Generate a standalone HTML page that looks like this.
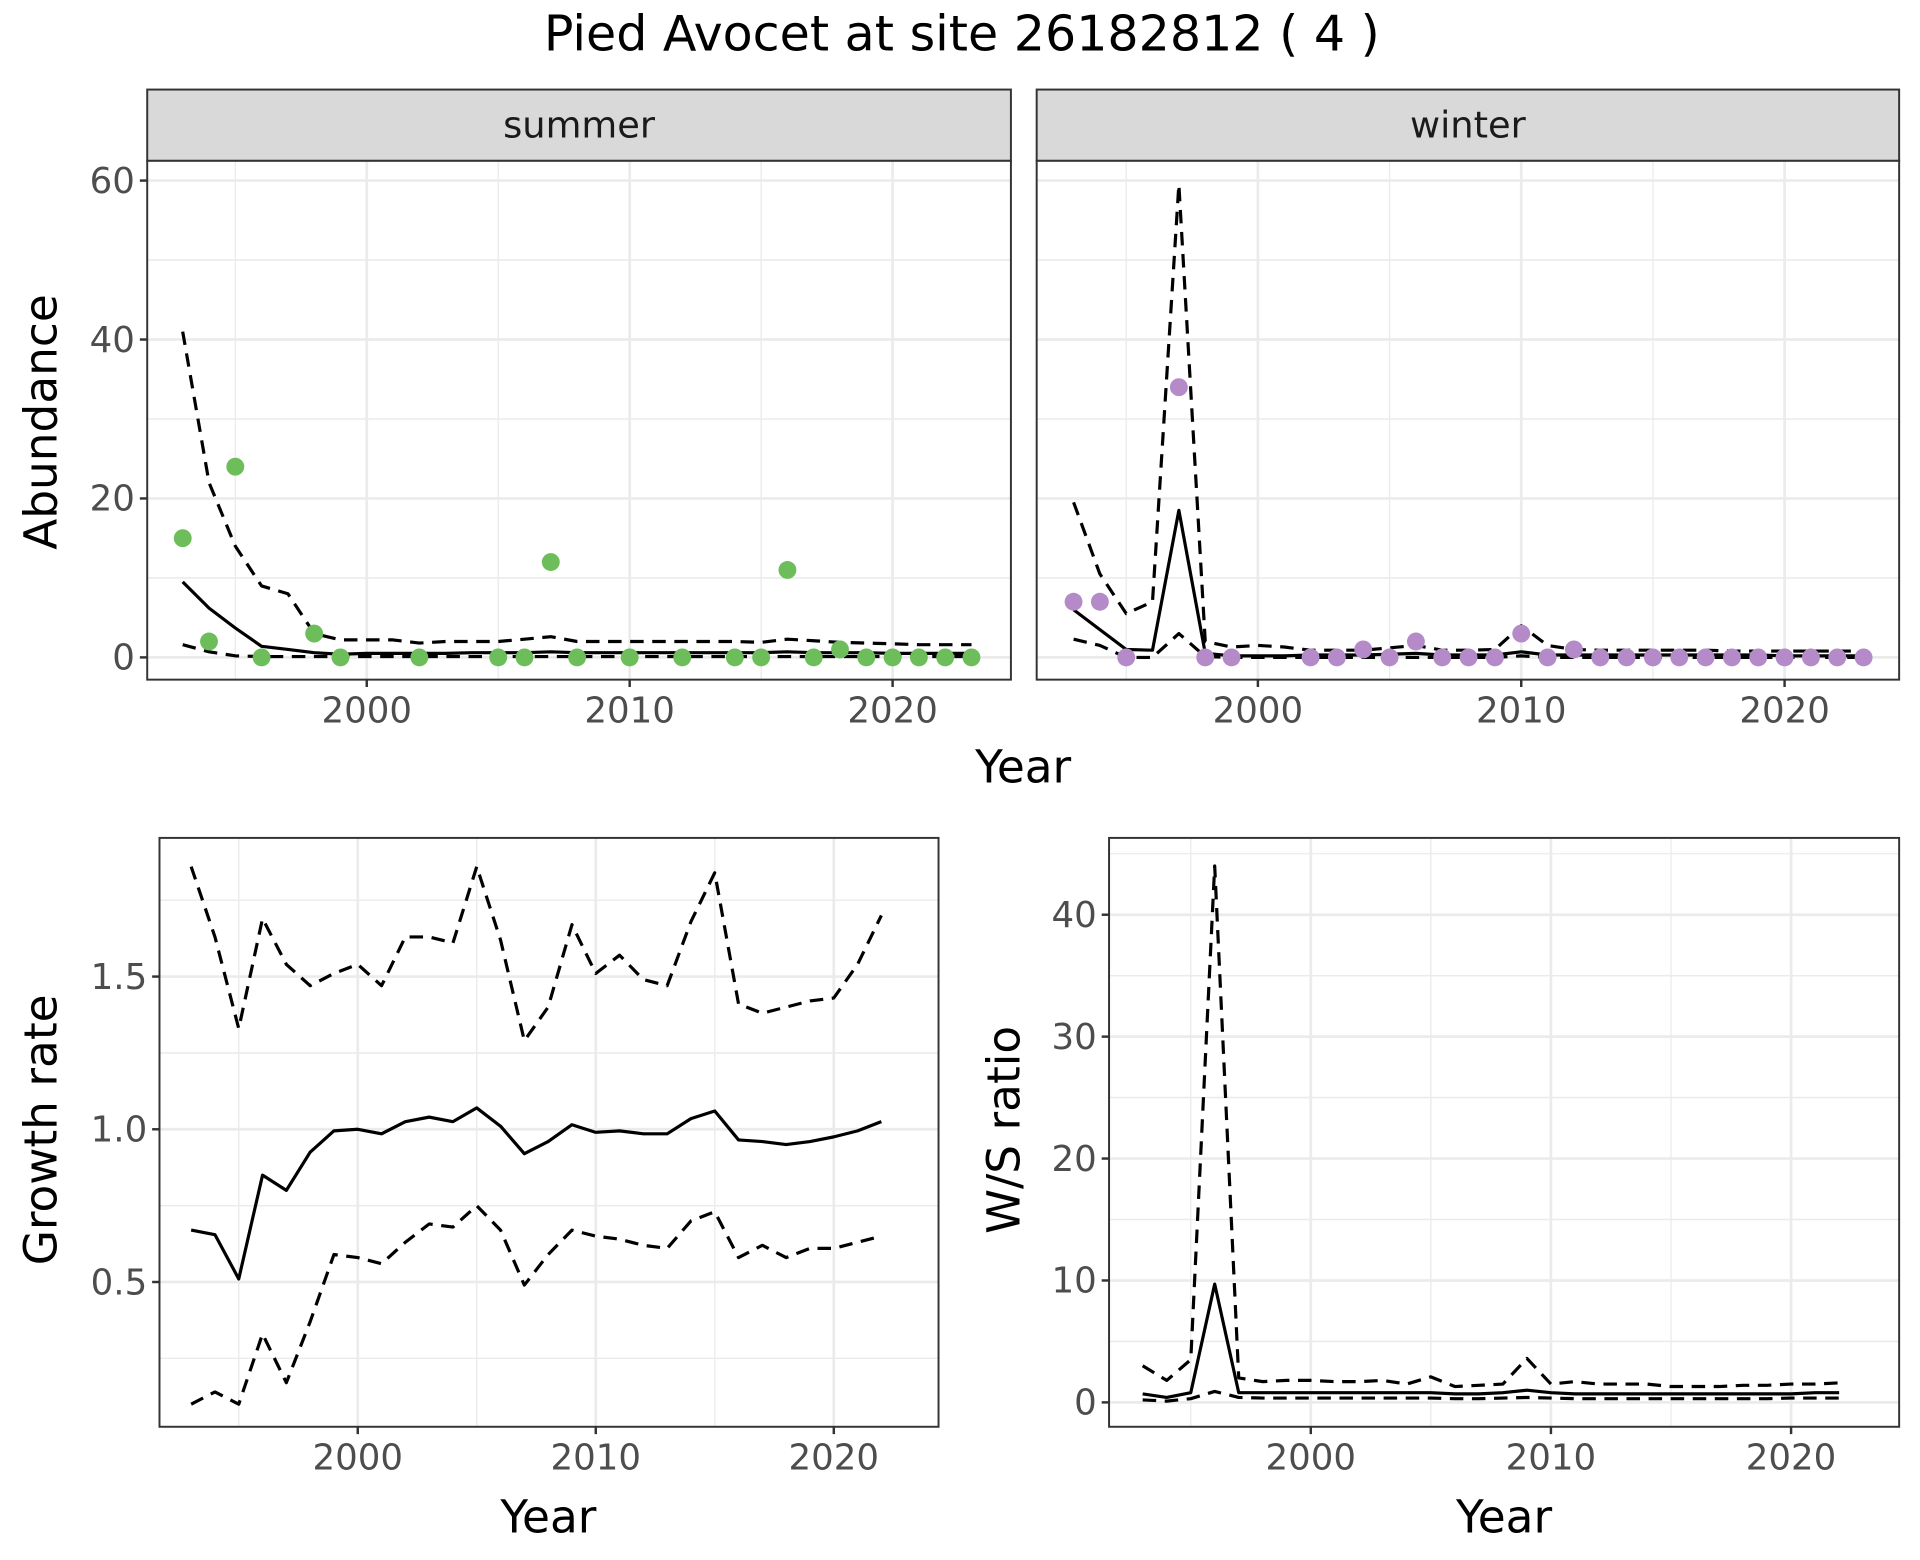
<!DOCTYPE html>
<html><head><meta charset="utf-8"><style>
html,body{margin:0;padding:0;background:#fff}
svg{display:block;font-family:"DejaVu Sans","Liberation Sans",sans-serif}
</style></head><body>
<svg id="fig" width="1920" height="1560" viewBox="0 0 1565 1271.6" preserveAspectRatio="none" xmlns="http://www.w3.org/2000/svg">
<rect width="1565" height="1271.6" fill="#fff"/>
<text x="784" y="41" font-size="40" text-anchor="middle" fill="#000">Pied Avocet at site 26182812 ( 4 )</text>
</svg>
<script>
const absYears = [1993,1994,1995,1996,1997,1998,1999,2000,2001,2002,2003,2004,2005,2006,2007,2008,2009,2010,2011,2012,2013,2014,2015,2016,2017,2018,2019,2020,2021,2022,2023];
const summerPtYears = [1993,1994,1995,1996,1998,1999,2002,2005,2006,2007,2008,2010,2012,2014,2015,2016,2017,2018,2019,2020,2021,2022,2023];
const summerPts = [15,2,24,0,3,0,0,0,0,12,0,0,0,0,0,11,0,1,0,0,0,0,0];
const summerMean = [9.5,6.2,3.7,1.4,1.0,0.6,0.4,0.5,0.5,0.5,0.5,0.6,0.6,0.6,0.7,0.6,0.6,0.6,0.6,0.6,0.6,0.6,0.6,0.7,0.6,0.6,0.6,0.5,0.5,0.5,0.5];
const summerUpper = [41,22,14,9,8,3,2.2,2.2,2.2,1.8,2,2,2,2.3,2.6,2,2,2,2,2,2,2,1.9,2.3,2.1,1.9,1.8,1.7,1.6,1.6,1.6];
const summerLower = [1.6,0.7,0.2,0.1,0.1,0.1,0.1,0.1,0.1,0.1,0.1,0.1,0.1,0.1,0.1,0.1,0.1,0.1,0.1,0.1,0.1,0.1,0.1,0.1,0.1,0.1,0.1,0.1,0.1,0.1,0.1];
const winterPtYears = [1993,1994,1995,1997,1998,1999,2002,2003,2004,2005,2006,2007,2008,2009,2010,2011,2012,2013,2014,2015,2016,2017,2018,2019,2020,2021,2022,2023];
const winterPts = [7,7,0,34,0,0,0,0,1,0,2,0,0,0,3,0,1,0,0,0,0,0,0,0,0,0,0,0];
const winterMean = [6,3.5,1,0.9,18.5,0.5,0.2,0.2,0.2,0.3,0.3,0.3,0.4,0.5,0.3,0.3,0.3,0.7,0.3,0.3,0.3,0.3,0.3,0.3,0.3,0.3,0.3,0.2,0.2,0.2,0.2];
const winterUpper = [19.5,10.5,5.5,7,59.5,2,1.3,1.5,1.3,0.9,0.9,0.9,1.2,1.5,0.9,0.9,1,4,1.5,1,0.9,0.9,0.9,0.9,0.9,0.8,0.8,0.8,0.8,0.8,0.8];
const winterLower = [2.3,1.5,0,0,3,0.1,0,0,0,0,0,0,0,0,0,0,0,0.2,0,0,0,0,0,0,0,0,0,0,0,0,0];
const gYears = absYears.slice(0,30);
const growthMean = [0.67,0.655,0.51,0.85,0.80,0.925,0.995,1.0,0.985,1.025,1.04,1.025,1.07,1.01,0.92,0.96,1.015,0.99,0.995,0.985,0.985,1.035,1.06,0.965,0.96,0.95,0.96,0.975,0.995,1.025];
const growthUpper = [1.86,1.63,1.33,1.69,1.54,1.47,1.51,1.54,1.47,1.63,1.63,1.61,1.86,1.62,1.29,1.40,1.67,1.51,1.57,1.49,1.47,1.68,1.84,1.41,1.38,1.40,1.42,1.43,1.54,1.70];
const growthLower = [0.10,0.14,0.10,0.33,0.17,0.37,0.59,0.58,0.56,0.63,0.69,0.68,0.75,0.67,0.49,0.59,0.67,0.65,0.64,0.62,0.61,0.70,0.73,0.58,0.62,0.58,0.61,0.61,0.63,0.65];
const wsMean = [0.7,0.4,0.8,9.7,0.8,0.8,0.8,0.8,0.8,0.8,0.8,0.8,0.8,0.7,0.7,0.8,1.0,0.8,0.7,0.7,0.7,0.7,0.7,0.7,0.7,0.7,0.7,0.7,0.8,0.8];
const wsUpper = [3,1.8,3.5,44,2,1.7,1.8,1.8,1.7,1.7,1.8,1.5,2.1,1.3,1.4,1.5,3.6,1.5,1.7,1.5,1.5,1.5,1.3,1.3,1.3,1.4,1.4,1.5,1.5,1.6];
const wsLower = [0.2,0.1,0.3,0.9,0.4,0.35,0.35,0.35,0.35,0.35,0.35,0.35,0.35,0.3,0.3,0.35,0.4,0.35,0.3,0.3,0.3,0.3,0.3,0.3,0.3,0.3,0.3,0.35,0.35,0.35];
const xTicks = [2000,2010,2020];
const abTicks = [0,20,40,60];
const grTicks = [0.5,1.0,1.5];
const grTickLabels = ["0.5","1.0","1.5"];
const wsTicks = [0,10,20,30,40];

const svg = document.getElementById('fig');
const NS = 'http://www.w3.org/2000/svg';
function el(tag, attrs, parent){const e=document.createElementNS(NS,tag);for(const k in attrs)e.setAttribute(k,attrs[k]);(parent||svg).appendChild(e);return e;}

function panel(name, box, xd, yd, yTicks, yLabels, showY){
  const g = el('g',{});
  
  
  const sx = v => box.x0 + (v - xd[0])/(xd[1]-xd[0])*(box.x1-box.x0);
  const sy = v => box.y1 - (v - yd[0])/(yd[1]-yd[0])*(box.y1-box.y0);
  const xm = [1995,2005,2015];
  xm.forEach(v=>{const x=sx(v);if(x>box.x0&&x<box.x1)el('line',{x1:x,x2:x,y1:box.y0,y2:box.y1,stroke:'#EBEBEB','stroke-width':1.1},g);});
  for(let i=0;i<yTicks.length;i++){
    const step = yTicks.length>1?yTicks[1]-yTicks[0]:1;
    [yTicks[i]-step/2, yTicks[i]+step/2].forEach(v=>{const y=sy(v);if(y>box.y0&&y<box.y1)el('line',{x1:box.x0,x2:box.x1,y1:y,y2:y,stroke:'#EBEBEB','stroke-width':1.1},g);});
  }
  xTicks.forEach(v=>el('line',{x1:sx(v),x2:sx(v),y1:box.y0,y2:box.y1,stroke:'#EBEBEB','stroke-width':2.2},g));
  yTicks.forEach(v=>el('line',{x1:box.x0,x2:box.x1,y1:sy(v),y2:sy(v),stroke:'#EBEBEB','stroke-width':2.2},g));
  xTicks.forEach(v=>{
    el('line',{x1:sx(v),x2:sx(v),y1:box.y1,y2:box.y1+6,stroke:'#333','stroke-width':2},g);
    const t=el('text',{x:sx(v),y:box.y1+35,'font-size':29,'text-anchor':'middle',fill:'#4D4D4D'},g);
    
    
    t.textContent=v;
  });
  if(showY) yTicks.forEach((v,i)=>{
    el('line',{x1:box.x0-6,x2:box.x0,y1:sy(v),y2:sy(v),stroke:'#333','stroke-width':2},g);
    const t=el('text',{x:box.x0-10,y:sy(v)+10,'font-size':29,'text-anchor':'end',fill:'#4D4D4D'},g);
    
    
    t.textContent=yLabels[i];
  });
  return {g,sx,sy,box};
}
function line(p, xs, ys, dashed, name){
  const d = xs.map((x,i)=>(i?'L':'M')+p.sx(x).toFixed(1)+','+p.sy(ys[i]).toFixed(1)).join('');
  const e = el('path',{d, fill:'none', stroke:'#000','stroke-width':2.6,'stroke-dasharray':dashed?'11,7':'none','stroke-linejoin':'round'},p.g);
  
  
}
function points(p, xs, ys, color, name){
  xs.forEach((x,i)=>{
    const c = el('circle',{cx:p.sx(x),cy:p.sy(ys[i]),r:7.3,fill:color},p.g);
    
    
  });
}
function frame(p){el('rect',{x:p.box.x0,y:p.box.y0,width:p.box.x1-p.box.x0,height:p.box.y1-p.box.y0,fill:'none',stroke:'#333','stroke-width':1.6},p.g);}
function strip(box, label, name){
  const g=el('g',{});
  
  
  el('rect',{x:box.x0,y:73,width:box.x1-box.x0,height:58,fill:'#D9D9D9',stroke:'#333','stroke-width':1.6},g);
  const t=el('text',{x:(box.x0+box.x1)/2,y:112,'font-size':30,'text-anchor':'middle',fill:'#1A1A1A'},g);
  t.textContent=label;
}
function title(x,y,txt,rot,name,size){
  const t=el('text',{x,y,'font-size':size||37,'text-anchor':'middle',fill:'#000',transform:rot?`rotate(-90 ${x} ${y})`:''});
  
  
  t.textContent=txt;
}

const abY=[-2.8,62.5];
const sBox={x0:120,x1:824,y0:131,y1:554};
const ps=panel('summer-panel',sBox,[1991.65,2024.5],abY,abTicks,abTicks.map(String),true);
line(ps,absYears,summerUpper,true,'summer-upper-ci');
line(ps,absYears,summerLower,true,'summer-lower-ci');
line(ps,absYears,summerMean,false,'summer-mean');
points(ps,summerPtYears,summerPts,'#6DBE5B','summer-count-point');
frame(ps); strip(sBox,'summer','summer-strip');

const wBox={x0:845,x1:1548,y0:131,y1:554};
const pw=panel('winter-panel',wBox,[1991.6,2024.35],abY,abTicks,abTicks.map(String),false);
line(pw,absYears,winterUpper,true,'winter-upper-ci');
line(pw,absYears,winterLower,true,'winter-lower-ci');
line(pw,absYears,winterMean,false,'winter-mean');
points(pw,winterPtYears,winterPts,'#B48BC8','winter-count-point');
frame(pw); strip(wBox,'winter','winter-strip');

title(834,638,'Year',false,'top-x-axis-title');
title(46,344,'Abundance',true,'abundance-axis-title');

const gBox={x0:130,x1:765,y0:683,y1:1163};
const pg=panel('growth-panel',gBox,[1991.67,2024.4],[0.026,1.954],grTicks,grTickLabels,true);
line(pg,gYears,growthUpper,true,'growth-upper-ci');
line(pg,gYears,growthLower,true,'growth-lower-ci');
line(pg,gYears,growthMean,false,'growth-mean');
frame(pg);
title(447,1249,'Year',false,'growth-x-axis-title',37);
title(46,921,'Growth rate',true,'growth-axis-title');

const rBox={x0:904,x1:1548,y0:683,y1:1163};
const pr=panel('ws-ratio-panel',rBox,[1991.6,2024.5],[-2.0,46.3],wsTicks,wsTicks.map(String),true);
line(pr,gYears,wsUpper,true,'ws-upper-ci');
line(pr,gYears,wsLower,true,'ws-lower-ci');
line(pr,gYears,wsMean,false,'ws-mean');
frame(pr);
title(1226,1249,'Year',false,'ws-x-axis-title',37);
title(831,921,'W/S ratio',true,'ws-axis-title');
</script>
</body></html>
